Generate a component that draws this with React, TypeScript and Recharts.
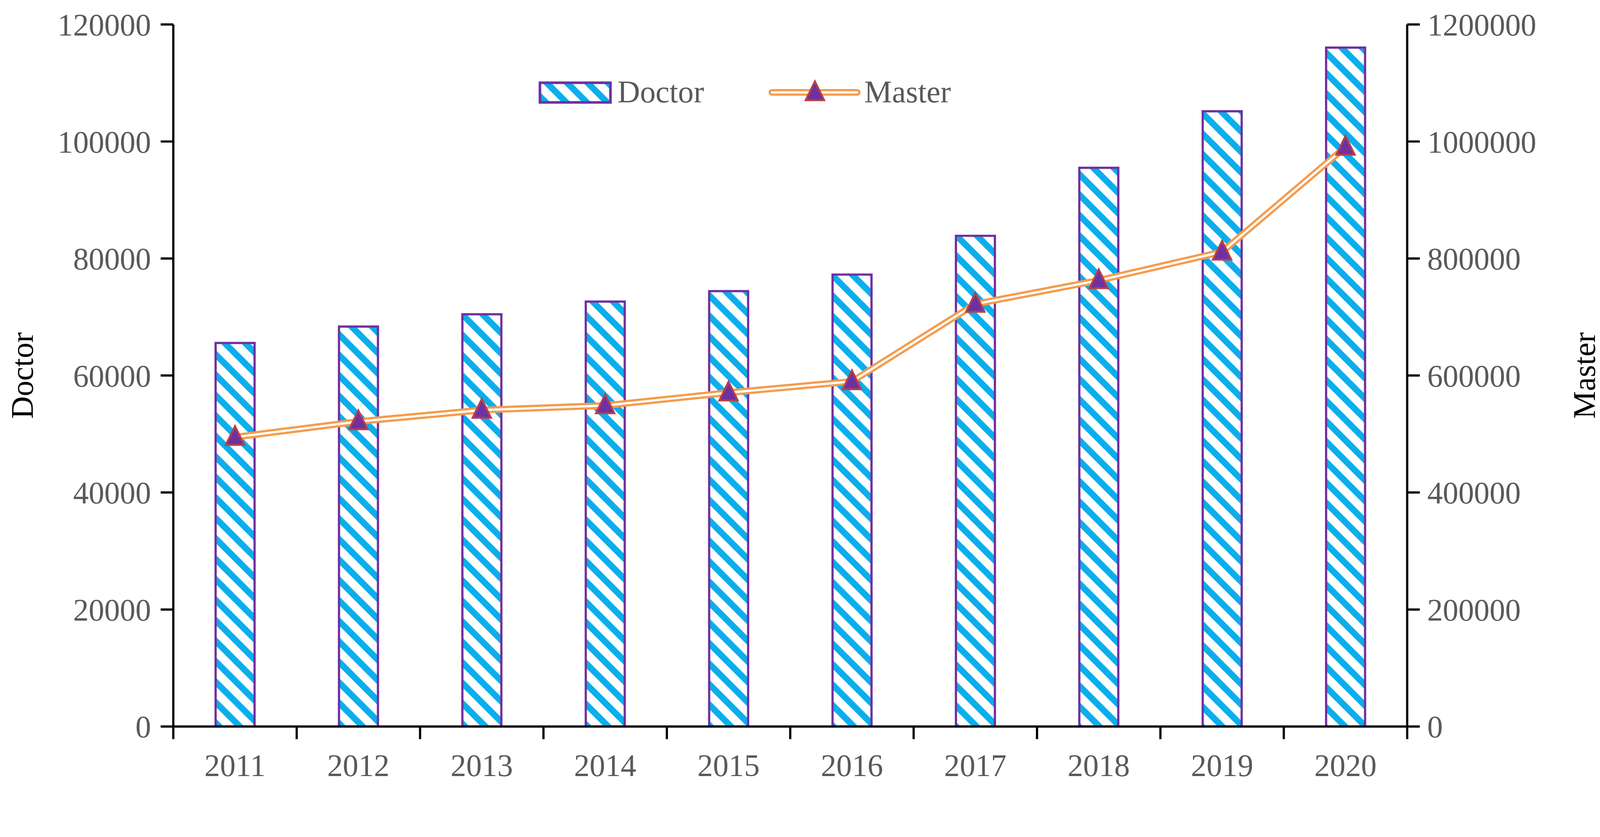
import React from 'react';
import { ComposedChart, Bar, Line, XAxis, YAxis, Legend } from 'recharts';

const years = ['2011', '2012', '2013', '2014', '2015', '2016', '2017', '2018', '2019', '2020'];
const doctor = [65559, 68370, 70462, 72634, 74416, 77252, 83878, 95502, 105169, 116047];
const master = [494609, 521303, 540919, 548689, 570639, 589812, 722225, 762560, 811322, 990549];
const leftTicks = [0, 20000, 40000, 60000, 80000, 100000, 120000];
const rightTicks = [0, 200000, 400000, 600000, 800000, 1000000, 1200000];

const data = years.map((y, i) => ({ year: y, doctor: doctor[i], master: master[i] }));

const W = 4317;
const H = 2143;
const SCALE = 0.95;
const LEFT_W = 467;
const RIGHT_W = 525;
const TOP = 66;
const X_H = 185;
const PLOT_W = W - LEFT_W - RIGHT_W;
const BAND = PLOT_W / years.length;

const FONT = '"Liberation Serif", "Times New Roman", serif';
const TICK_COLOR = '#595959';
const AXIS_COLOR = '#000000';
const CYAN = '#0AAEEC';
const PURPLE = '#7030A0';
const ORANGE = '#F59B4C';
const MARKER_STROKE = '#B8404A';
const FS = 84;

const StripeDefs = ({ id }: { id: string }) => (
  <defs>
    <pattern id={id} patternUnits="userSpaceOnUse" width={39} height={39} patternTransform="rotate(-45)">
      <rect x={0} y={0} width={39} height={39} fill="#FFFFFF" />
      <rect x={0} y={0} width={17} height={39} fill={CYAN} />
    </pattern>
  </defs>
);

const XTick = (props: any) => {
  const { x, y, index, payload } = props;
  const half = BAND / 2;
  return (
    <g>
      <line x1={x - half} x2={x - half} y1={y} y2={y + 34} stroke={AXIS_COLOR} strokeWidth={6} />
      {index === years.length - 1 ? (
        <line x1={x + half} x2={x + half} y1={y} y2={y + 34} stroke={AXIS_COLOR} strokeWidth={6} />
      ) : null}
      <text x={x} y={y + 134} textAnchor="middle" fontFamily={FONT} fontSize={FS} fill={TICK_COLOR}>
        {payload.value}
      </text>
    </g>
  );
};

const Triangle = (props: any) => {
  const { cx, cy } = props;
  if (cx == null || cy == null) return null;
  const pts = `${cx},${cy - 30} ${cx - 25},${cy + 21} ${cx + 25},${cy + 21}`;
  return <polygon points={pts} fill={PURPLE} stroke={MARKER_STROKE} strokeWidth={5} strokeLinejoin="miter" />;
};

const makeTitle = (text: string, xPos: number) => (props: any) => {
  const vb = props.viewBox || {};
  const cy = (vb.y ?? TOP) + (vb.height ?? H - TOP - X_H) / 2;
  return (
    <text
      x={xPos}
      y={cy}
      transform={`rotate(-90 ${xPos} ${cy})`}
      textAnchor="middle"
      dominantBaseline="central"
      fontFamily={FONT}
      fontSize={FS}
      fill="#000000"
    >
      {text}
    </text>
  );
};

const LegendContent = () => (
  <svg width={1200} height={100} style={{ overflow: 'visible' }}>
    <StripeDefs id="stripeLegend" />
    <rect x={17} y={23} width={190} height={53} fill="url(#stripeLegend)" stroke={PURPLE} strokeWidth={7} />
    <text x={226} y={76} fontFamily={FONT} fontSize={FS} fill={TICK_COLOR}>Doctor</text>
    <line x1={642} x2={872} y1={49} y2={49} stroke={ORANGE} strokeWidth={18} strokeLinecap="round" />
    <line x1={642} x2={872} y1={49} y2={49} stroke="#FFFFFF" strokeWidth={6} strokeLinecap="round" />
    <Triangle cx={758} cy={49} />
    <text x={891} y={76} fontFamily={FONT} fontSize={FS} fill={TICK_COLOR}>Master</text>
  </svg>
);

export default function App() {
  return (
    <div style={{ position: 'absolute', left: 0, top: 0, width: W * SCALE, height: H * SCALE, overflow: 'hidden', background: '#FFFFFF' }}>
      <div style={{ width: W, height: H, transform: `scale(${SCALE})`, transformOrigin: '0 0' }}>
        <ComposedChart width={W} height={H} data={data} margin={{ top: TOP, right: 0, bottom: 0, left: 0 }}>
          <StripeDefs id="stripeBar" />
          <XAxis
            dataKey="year"
            height={X_H}
            tickLine={false}
            tickSize={0}
            tickMargin={0}
            axisLine={{ stroke: AXIS_COLOR, strokeWidth: 6 }}
            tick={<XTick />}
            interval={0}
          />
          <YAxis
            yAxisId="left"
            orientation="left"
            width={LEFT_W}
            domain={[0, 120000]}
            ticks={leftTicks}
            interval={0}
            tickSize={34}
            tickMargin={26}
            axisLine={{ stroke: AXIS_COLOR, strokeWidth: 6 }}
            tickLine={{ stroke: AXIS_COLOR, strokeWidth: 6 }}
            tick={{ fontFamily: FONT, fontSize: FS, fill: TICK_COLOR }}
            label={makeTitle('Doctor', 60)}
          />
          <YAxis
            yAxisId="right"
            orientation="right"
            width={RIGHT_W}
            domain={[0, 1200000]}
            ticks={rightTicks}
            interval={0}
            tickSize={34}
            tickMargin={20}
            axisLine={{ stroke: AXIS_COLOR, strokeWidth: 6 }}
            tickLine={{ stroke: AXIS_COLOR, strokeWidth: 6 }}
            tick={{ fontFamily: FONT, fontSize: FS, fill: TICK_COLOR }}
            label={makeTitle('Master', W - 48)}
          />
          <Legend
            layout="horizontal"
            verticalAlign="middle"
            align="center"
            content={<LegendContent />}
            wrapperStyle={{ position: 'absolute', top: 200, left: 1438, width: 1200, height: 100 }}
          />
          <Bar
            yAxisId="left"
            dataKey="doctor"
            barSize={105}
            fill="url(#stripeBar)"
            stroke={PURPLE}
            strokeWidth={6}
            isAnimationActive={false}
          />
          <Line
            yAxisId="right"
            dataKey="master"
            type="linear"
            stroke={ORANGE}
            strokeWidth={18}
            dot={false}
            activeDot={false}
            legendType="none"
            isAnimationActive={false}
          />
          <Line
            yAxisId="right"
            dataKey="master"
            type="linear"
            stroke="#FFFFFF"
            strokeWidth={6}
            dot={<Triangle />}
            activeDot={false}
            legendType="none"
            isAnimationActive={false}
          />
        </ComposedChart>
      </div>
    </div>
  );
}
